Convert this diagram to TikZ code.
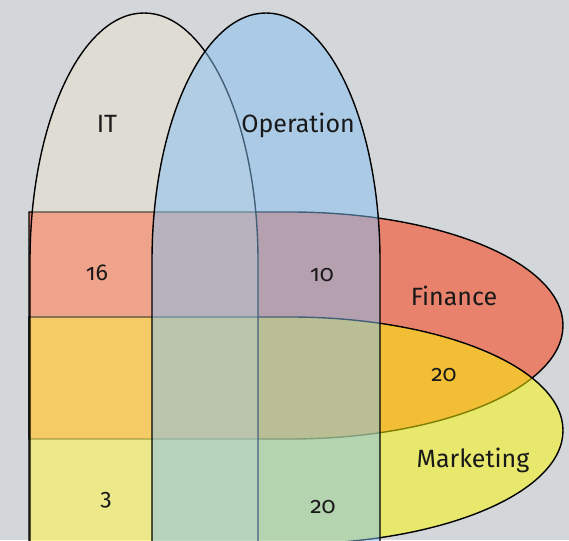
\documentclass[tikz,border=0pt]{standalone}
\usepackage{fontspec}
\setmainfont{Fira Sans}[Numbers=OldStyle]
\usepackage{tikz}

\definecolor{bgcol}{RGB}{211,215,217}
\definecolor{fincol}{RGB}{233,130,108}
\definecolor{mktcol}{RGB}{251,250,0}
\definecolor{itcol}{RGB}{250,232,200}
\definecolor{opcol}{RGB}{131,191,243}

\begin{document}
\begin{tikzpicture}[x=1pt, y=1pt,
    setline/.style={draw=black, line width=1.4pt},
    lbl/.style={anchor=base, font=\fontsize{25}{30}\selectfont, text=black!90},
    num/.style={anchor=base, font=\fontsize{23}{28}\selectfont, text=black!90}]
    % Background
    \fill[bgcol] (0,0) rectangle (569,540);
    \useasboundingbox (0,0) rectangle (569,540);
    \clip (0,0) rectangle (569,540);

    % Finance
    \filldraw[setline, fill=fincol] (29,328) -- (290,328)
        arc[start angle=90, end angle=-90, x radius=273, y radius=113.5] -- (29,101) -- cycle;

    % Marketing
    \filldraw[setline, fill=mktcol, fill opacity=0.5] (29,223) -- (290,223)
        arc[start angle=90, end angle=-90, x radius=273, y radius=113.5] -- (29,-4) -- cycle;

    % IT
    \filldraw[setline, fill=itcol, fill opacity=0.33] (30,-10) -- (30,279)
        arc[start angle=180, end angle=0, x radius=114, y radius=248] -- (258,-10) -- cycle;

    % Operation
    \filldraw[setline, fill=opcol, fill opacity=0.5] (152,-10) -- (152,279)
        arc[start angle=180, end angle=0, x radius=114, y radius=248] -- (380,-10) -- cycle;

    % Labels
    \node[lbl] (it) at (107,407) {IT};
    \node[lbl] (op) at (298,407) {Operation};
    \node[lbl] (fin) at (454,234) {Finance};
    \node[lbl] (mkt) at (473,73) {Marketing};

    % Counts
    \node[num] (itfin) at (97,259) {16};
    \node[num] (opfin) at (322,258) {10};
    \node[num] (finmkt) at (444,158) {20};
    \node[num] (itmkt) at (106,35) {3};
    \node[num] (opmkt) at (323,27) {20};
\end{tikzpicture}
\end{document}
